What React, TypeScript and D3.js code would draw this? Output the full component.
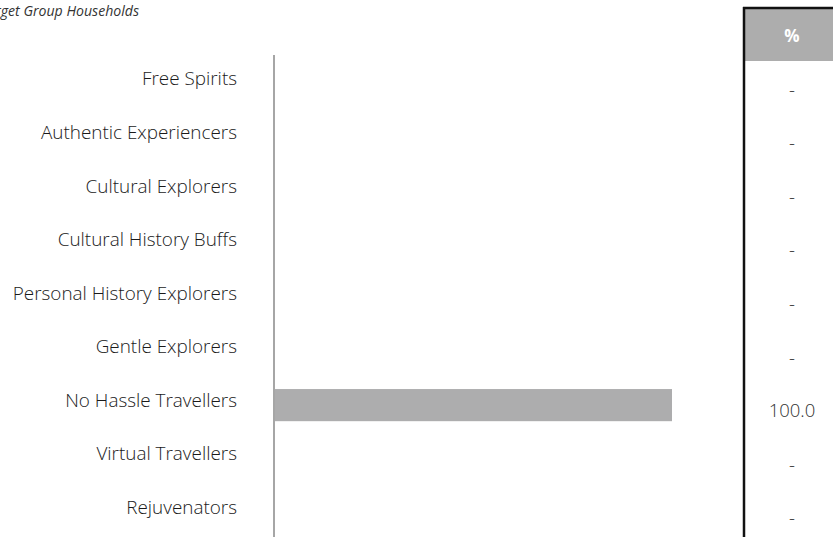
import React from "react";
import * as d3 from "d3";

const title = "Target Group Households";
const categories = [
  "Free Spirits",
  "Authentic Experiencers",
  "Cultural Explorers",
  "Cultural History Buffs",
  "Personal History Explorers",
  "Gentle Explorers",
  "No Hassle Travellers",
  "Virtual Travellers",
  "Rejuvenators",
];
const values = [0, 0, 0, 0, 0, 0, 100, 0, 0];
const tableHeader = "%";

const W = 833;
const H = 537;
const FONT = "'Open Sans', 'Noto Sans', sans-serif";

export default function App() {
  const y = d3.scaleBand<string>().domain(categories).range([57, 539]).paddingInner(0.4).paddingOuter(0.2);
  const x = d3.scaleLinear().domain([0, 100]).range([274, 672]);
  const fmt = (v: number) => (v === 0 ? "-" : d3.format(".1f")(v));

  return (
    <svg width={W} height={H} style={{ position: "absolute", left: 0, top: 0, background: "#fff" }}>
      <text x={139} y={16} textAnchor="end" fontFamily={FONT} fontStyle="italic" fontSize={14.1} fill="#333">
        {title}
      </text>
      {categories.map((c) => (
        <text
          key={c}
          x={237}
          y={(y(c) as number) + y.bandwidth() / 2 - 5}
          dy="0.35em"
          textAnchor="end"
          fontFamily={FONT}
          fontWeight={300}
          fontSize={18.9}
          fill="#1a1a1a"
        >
          {c}
        </text>
      ))}
      {categories.map((c, i) => (
        <rect
          key={"b" + c}
          x={x(0)}
          y={y(c) as number}
          width={x(values[i]) - x(0)}
          height={y.bandwidth()}
          fill="#adadae"
        />
      ))}
      <line x1={x(0)} x2={x(0)} y1={55} y2={H} stroke="#a6a6a6" strokeWidth={2} />

      <rect x={745} y={9} width={W - 745} height={52} fill="#adadad" />
      <line x1={744} x2={744} y1={7} y2={H} stroke="#111" strokeWidth={2.5} />
      <line x1={743} x2={W} y1={8} y2={8} stroke="#111" strokeWidth={2.5} />
      <text x={792} y={36} dy="0.35em" textAnchor="middle" fontFamily={FONT} fontWeight={700} fontSize={17} fill="#fff">
        {tableHeader}
      </text>
      {categories.map((c, i) => (
        <text
          key={"v" + c}
          x={792}
          y={(y(c) as number) + y.bandwidth() / 2 + 5.5}
          dy="0.35em"
          textAnchor="middle"
          fontFamily={FONT}
          fontWeight={300}
          fontSize={18.5}
          fill="#333"
        >
          {fmt(values[i])}
        </text>
      ))}
    </svg>
  );
}
